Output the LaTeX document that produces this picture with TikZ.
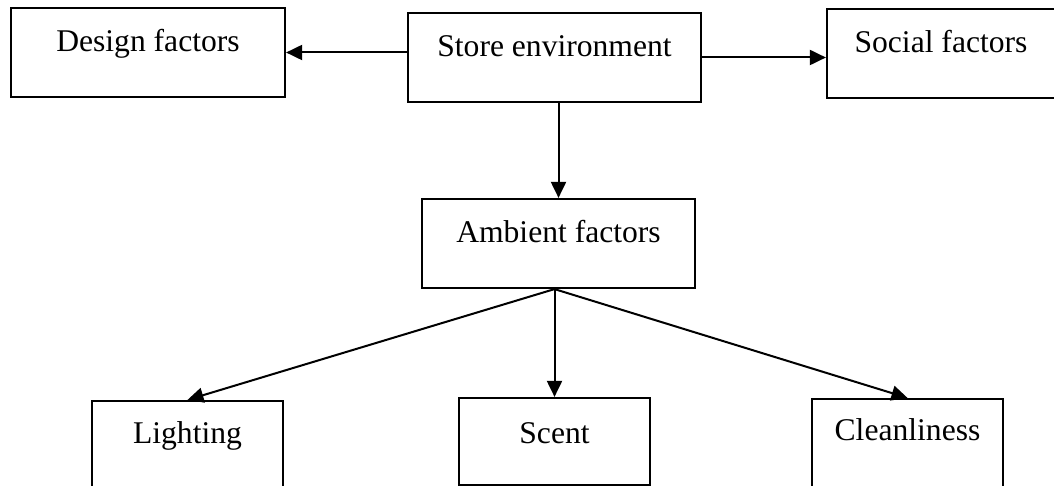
\documentclass[tikz,border=0pt]{standalone}
\usepackage{fontspec}
\setmainfont{Liberation Serif}
\usetikzlibrary{arrows.meta}
\begin{document}
\begin{tikzpicture}[x=1pt,y=-1pt,
  box/.style={draw,line width=2.2pt,inner sep=0pt,anchor=base,
    text height=44pt,text depth=45pt,minimum width=#1},
  box/.default=191pt,
  arr/.style={line width=2pt,-{Triangle[length=16pt,width=15pt]}},
  font=\fontsize{31.6}{38}\selectfont]
\useasboundingbox (0,0) rectangle (1054,486);
\clip (0,0) rectangle (1054,486);
% top row
\node[box=274pt] (design) at (148,52) {Design factors};
\node[box=293pt] (store) at (554.5,57) {Store environment};
\node[box=228pt] (social) at (941,53) {Social factors};
% middle
\node[box=273pt] (ambient) at (558.5,243) {Ambient factors};
% bottom row
\node[box,text height=42pt,text depth=50pt] (lighting) at (187.5,443) {Lighting};
\node[box,text height=45pt,text depth=42pt] (scent) at (554.5,443) {Scent};
\node[box,text height=41pt,text depth=52pt] (clean) at (907.5,440) {Cleanliness};
% connectors
\draw[arr] (store.west |- design.east) -- (design.east);
\draw[arr] (store.east) -- (store.east -| social.west);
\draw[arr] (store.south -| ambient.north) -- (ambient.north);
\coordinate (fan) at (ambient.south -| scent.north);
\draw[arr] (fan) -- (lighting.north);
\draw[arr] (fan) -- (scent.north);
\draw[arr] (fan) -- (clean.north);
\end{tikzpicture}
\end{document}
